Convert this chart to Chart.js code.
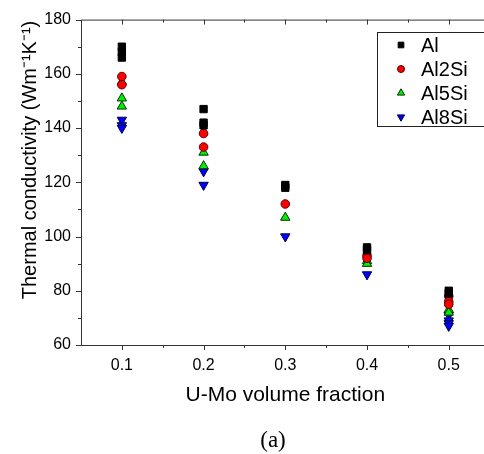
<!DOCTYPE html>
<html>
<head>
<meta charset="utf-8">
<script src="https://cdn.jsdelivr.net/npm/chart.js@4/dist/chart.umd.min.js"></script>
<style>
  html, body { margin: 0; padding: 0; background: #fff; overflow: hidden; }
</style>
</head>
<body>
<canvas id="chart" width="496" height="454"></canvas>
<script>
// U-Mo volume fractions and measured conductivities, several samples per fraction
const fractions = [0.1, 0.2, 0.3, 0.4, 0.5];
const alValues = [[170, 168, 166], [147, 142, 141], [119, 118], [96, 95], [80, 79]];
const al2SiValues = [[159, 156], [138, 133], [112], [93, 92], [78, 76, 75]];
const al5SiValues = [[157, 151, 148], [131, 126], [107], [91, 90], [73, 72]];
const al8SiValues = [[143, 141, 140], [124, 119], [100], [86], [71, 69, 68, 67]];
const seriesNames = ['Al', 'Al2Si', 'Al5Si', 'Al8Si'];
const xTicks = [0.1, 0.2, 0.3, 0.4, 0.5];
const yTicks = [60, 80, 100, 120, 140, 160, 180];

const FONT = 'Arial, "Liberation Sans", sans-serif';

function toPoints(values) {
  const pts = [];
  values.forEach((group, i) => group.forEach(v => pts.push({x: fractions[i], y: v})));
  return pts;
}

const styles = [
  {pointStyle: 'rect', backgroundColor: '#000', borderColor: '#000', pointRadius: 5.2, rotation: 0},
  {pointStyle: 'circle', backgroundColor: '#ff0000', borderColor: '#5a0000', pointRadius: 4.3, rotation: 0},
  {pointStyle: 'triangle', backgroundColor: '#00ee00', borderColor: '#003000', pointRadius: 5.4, rotation: 0},
  {pointStyle: 'triangle', backgroundColor: '#0000ff', borderColor: '#000040', pointRadius: 5.4, rotation: 180},
];

const allValues = [alValues, al2SiValues, al5SiValues, al8SiValues];
const datasets = allValues.map((vals, i) => ({
  label: seriesNames[i],
  data: toPoints(vals),
  pointStyle: styles[i].pointStyle,
  backgroundColor: styles[i].backgroundColor,
  borderColor: styles[i].borderColor,
  pointBorderWidth: 1,
  pointRadius: styles[i].pointRadius,
  pointHoverRadius: styles[i].pointRadius,
  rotation: styles[i].rotation,
  showLine: false,
}));

// frame, mirrored ticks, minor ticks, y title, legend box and "(a)" caption
const decorations = {
  id: 'decorations',
  afterDraw(chart) {
    const {ctx, chartArea: a, scales: {x, y}} = chart;
    ctx.save();
    ctx.strokeStyle = '#333';
    ctx.lineWidth = 1;
    ctx.strokeRect(a.left + 0.5, a.top + 0.5, a.right - a.left, a.bottom - a.top);
    ctx.beginPath();
    // x ticks: majors outside bottom, inside top; minors between
    for (let v = 0.1; v <= 0.55; v += 0.05) {
      const px = Math.round(x.getPixelForValue(v)) + 0.5;
      const major = Math.abs(v * 10 - Math.round(v * 10)) < 1e-6;
      const len = major ? 5 : 3;
      ctx.moveTo(px, a.bottom); ctx.lineTo(px, a.bottom + len);
      ctx.moveTo(px, a.top); ctx.lineTo(px, a.top + len);
    }
    for (let v = 60; v <= 180; v += 10) {
      const py = Math.round(y.getPixelForValue(v)) + 0.5;
      const len = v % 20 === 0 ? 5 : 3;
      ctx.moveTo(a.left - len, py); ctx.lineTo(a.left, py);
    }
    ctx.stroke();

    // y axis title, sitting a little above the middle as in the original
    ctx.save();
    ctx.translate(30, 160);
    ctx.rotate(-Math.PI / 2);
    ctx.font = '20px ' + FONT;
    ctx.fillStyle = '#000';
    ctx.textAlign = 'center';
    ctx.textBaseline = 'middle';
    ctx.fillText('Thermal conductivity (Wm\u207B\u00B9K\u207B\u00B9)', 0, 0);
    ctx.restore();

    // legend
    const bx = 377.5, by = 32.5, bw = 120, bh = 94;
    ctx.fillStyle = '#fff';
    ctx.fillRect(bx, by, bw, bh);
    ctx.strokeStyle = '#222';
    ctx.strokeRect(bx, by, bw, bh);
    ctx.font = '20px ' + FONT;
    ctx.textBaseline = 'middle';
    datasets.forEach((ds, i) => {
      const cy = 45 + i * 24;
      ctx.fillStyle = ds.backgroundColor;
      ctx.strokeStyle = ds.borderColor;
      Chart.helpers.drawPoint(ctx, {
        pointStyle: ds.pointStyle,
        rotation: ds.rotation,
        borderWidth: 1,
        radius: ds.pointStyle === 'rect' ? 4 : (ds.pointStyle === 'circle' ? 3.5 : 4.2),
      }, 401, cy);
      ctx.fillStyle = '#000';
      ctx.textAlign = 'left';
      ctx.fillText(ds.label, 421, cy + 1);
    });

    ctx.font = '23px "Liberation Serif", "Times New Roman", serif';
    ctx.textAlign = 'center';
    ctx.fillStyle = '#000';
    ctx.fillText('(a)', 273, 441);
    ctx.restore();
  }
};

const ctx = document.getElementById('chart').getContext('2d');
new Chart(ctx, {
  type: 'scatter',
  data: {datasets},
  options: {
    responsive: false,
    animation: false,
    layout: {padding: {left: 0, right: 4, top: 18, bottom: 46}},
    plugins: {legend: {display: false}, tooltip: {enabled: false}},
    scales: {
      x: {
        type: 'linear',
        min: 0.05,
        max: 0.55,
        afterBuildTicks(scale) { scale.ticks = xTicks.map(v => ({value: v})); },
        afterFit(scale) { scale.height = 63; },
        border: {display: false},
        grid: {display: false, drawTicks: false},
        ticks: {
          color: '#000',
          padding: 11,
          font: {family: FONT, size: 16},
          callback: v => v.toFixed(1),
        },
        title: {
          display: true,
          text: 'U-Mo volume fraction',
          color: '#000',
          font: {family: FONT, size: 21},
          padding: {top: 6, bottom: 0},
        },
      },
      y: {
        type: 'linear',
        min: 60,
        max: 180,
        afterBuildTicks(scale) { scale.ticks = yTicks.map(v => ({value: v})); },
        afterFit(scale) { scale.width = 81; },
        border: {display: false},
        grid: {display: false, drawTicks: false},
        ticks: {
          color: '#000',
          padding: 10,
          font: {family: FONT, size: 16},
        },
      },
    },
  },
  plugins: [decorations],
});
</script>
</body>
</html>
